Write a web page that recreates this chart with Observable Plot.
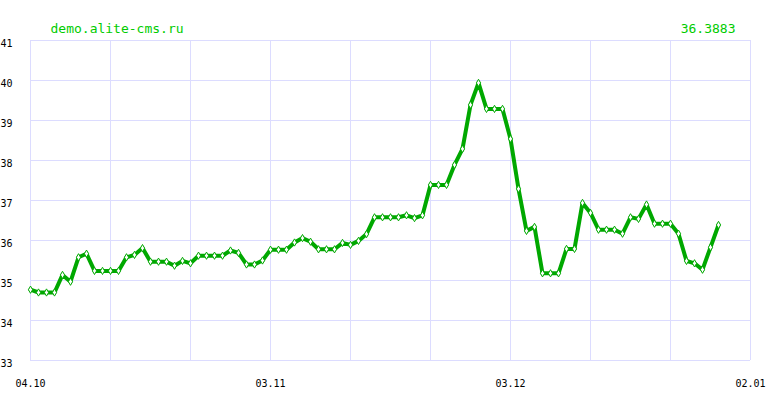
<!DOCTYPE html>
<html>
<head>
<meta charset="utf-8">
<script src="https://cdn.jsdelivr.net/npm/d3@7"></script>
<script src="https://cdn.jsdelivr.net/npm/@observablehq/plot@0.6"></script>
<style>
  html, body { margin: 0; padding: 0; background: #fff; }
  #chart svg { display: block; }
</style>
</head>
<body>
<div id="chart"></div>
<script>
// ---- data ----
const titleText = "demo.alite-cms.ru";
const lastValueText = "36.3883";
const startDate = "2023-10-04";
const endDate = "2024-01-02";
const xTickLabels = ["2023-10-04", "2023-11-03", "2023-12-03", "2024-01-02"];
const yTicks = [33, 34, 35, 36, 37, 38, 39, 40, 41];
// one value per day starting at startDate
const values = [
  34.77, 34.70, 34.70, 34.70, 35.14, 34.97, 35.58, 35.67, 35.24, 35.24,
  35.24, 35.24, 35.58, 35.64, 35.81, 35.47, 35.47, 35.47, 35.37, 35.49,
  35.43, 35.62, 35.62, 35.62, 35.62, 35.75, 35.69, 35.40, 35.40, 35.50,
  35.77, 35.77, 35.77, 35.95, 36.06, 35.97, 35.78, 35.78, 35.78, 35.94,
  35.89, 35.99, 36.16, 36.58, 36.58, 36.58, 36.58, 36.63, 36.56, 36.63,
  37.39, 37.39, 37.39, 37.89, 38.29, 39.39, 39.94, 39.29, 39.29, 39.29,
  38.54, 37.29, 36.24, 36.34, 35.18, 35.18, 35.18, 35.79, 35.79, 36.94,
  36.69, 36.27, 36.27, 36.27, 36.17, 36.58, 36.54, 36.90, 36.42, 36.42,
  36.42, 36.17, 35.49, 35.43, 35.27, 35.83, 36.3883
];

const start = new Date(startDate + "T00:00:00Z");
const data = values.map((v, i) => ({date: d3.utcDay.offset(start, i), value: v}));
const xDomain = [new Date(startDate + "T00:00:00Z"), new Date(endDate + "T00:00:00Z")];
const gridDates = d3.range(0, 91, 10).map(d => d3.utcDay.offset(start, d));
const xLabelDates = xTickLabels.map(s => new Date(s + "T00:00:00Z"));

const lineColor = "#00a800";
const titleColor = "#00cc00";
const gridColor = "#dcdcff";
const mono = "'DejaVu Sans Mono', monospace";

const chart = Plot.plot({
  width: 780,
  height: 400,
  marginTop: 40,
  marginRight: 30,
  marginBottom: 40,
  marginLeft: 30,
  style: {fontFamily: mono, fontSize: "10px", color: "#000", background: "#fff"},
  x: {type: "utc", domain: xDomain, label: null},
  y: {domain: [33, 41], label: null},
  marks: [
    Plot.gridX(gridDates, {stroke: gridColor, strokeOpacity: 1, strokeWidth: 1}),
    Plot.gridY(yTicks, {stroke: gridColor, strokeOpacity: 1, strokeWidth: 1}),
    Plot.axisY(yTicks, {
      tickSize: 0, textAnchor: "start", dx: -21, dy: 3, label: null,
      tickFormat: d => String(d), fill: "#000", fontSize: 10
    }),
    Plot.axisX(xLabelDates, {
      tickSize: 0, tickPadding: 0, dy: 19, label: null,
      tickFormat: d3.utcFormat("%d.%m"), fill: "#000", fontSize: 10
    }),
    Plot.line(data, {x: "date", y: "value", stroke: lineColor, strokeWidth: 4, curve: "linear"}),
    Plot.dot(data, {x: "date", y: "value", symbol: "diamond", r: 2.2, fill: "#fff", stroke: lineColor, strokeWidth: 1}),
    Plot.text([titleText], {
      frameAnchor: "top-left", text: d => d, textAnchor: "start", lineAnchor: "bottom",
      dx: 20, dy: -8, fill: titleColor, fontSize: 13, fontFamily: mono
    }),
    Plot.text([lastValueText], {
      frameAnchor: "top-right", text: d => d, textAnchor: "end", lineAnchor: "bottom",
      dx: -15, dy: -8, fill: titleColor, fontSize: 13, fontFamily: mono
    })
  ]
});
document.getElementById("chart").appendChild(chart);
</script>
</body>
</html>
